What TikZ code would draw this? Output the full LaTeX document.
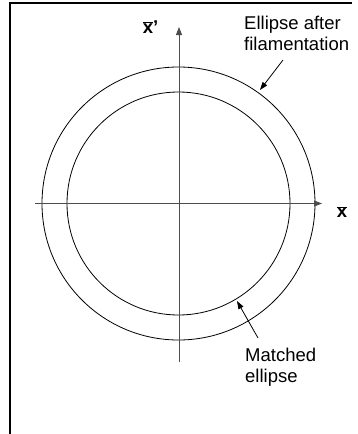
\documentclass[tikz,border=0pt]{standalone}
\usepackage{fontspec}
\setmainfont{Liberation Sans}
\usetikzlibrary{arrows.meta}
\begin{document}
\begin{tikzpicture}[x=1pt,y=-1pt,
  axis/.style={draw=black!70, line width=0.9pt, -{Triangle[length=8pt,width=6pt]}},
  circ/.style={draw=black, line width=0.8pt},
  frame/.style={draw=black, line width=2pt},
  lbl/.style={font=\fontsize{18.5}{21}\selectfont, align=left, inner sep=0pt},
  axlbl/.style={font=\fontsize{18.5}{21}\selectfont\bfseries, inner sep=0pt},
  pointer/.style={draw=black, line width=0.8pt, -{Triangle[length=8pt,width=5.5pt]}}]
\useasboundingbox (0,0) rectangle (358,434);
% frame
\coordinate (fb) at (10,434);
\coordinate (ftl) at (10,3);
\coordinate (ftr) at (352,3);
\draw[frame] (fb) -- (ftl) -- (ftr);
% circles
\coordinate (c) at (178.5,203.5);
\draw[circ] (c) circle[radius=136.5];
\draw[circ] (c) circle[radius=111.5];
% axes
\coordinate (xs) at (35,203.5);
\coordinate (xe) at (322,203.5);
\coordinate (ys) at (179,362);
\coordinate (ye) at (179,27);
\draw[axis] (xs) -- (xe);
\draw[axis] (ys) -- (ye);
\node[axlbl] (xl) at (342,212) {$\overline{\hbox{\bfseries x}}$};
\node[axlbl] (xpl) at (148,27) {$\overline{\hbox{\bfseries x}}$\rlap{'}};
% labels
\node[lbl, anchor=west] (la) at (244,33) {Ellipse after\\filamentation};
\node[lbl, anchor=west] (lb) at (245,367) {Matched\\ellipse};
\coordinate (a1s) at (283,60);
\coordinate (a1e) at (260,90);
\coordinate (a2s) at (258,338);
\coordinate (a2e) at (237,301);
\draw[pointer] (a1s) -- (a1e);
\draw[pointer] (a2s) -- (a2e);
\end{tikzpicture}
\end{document}
